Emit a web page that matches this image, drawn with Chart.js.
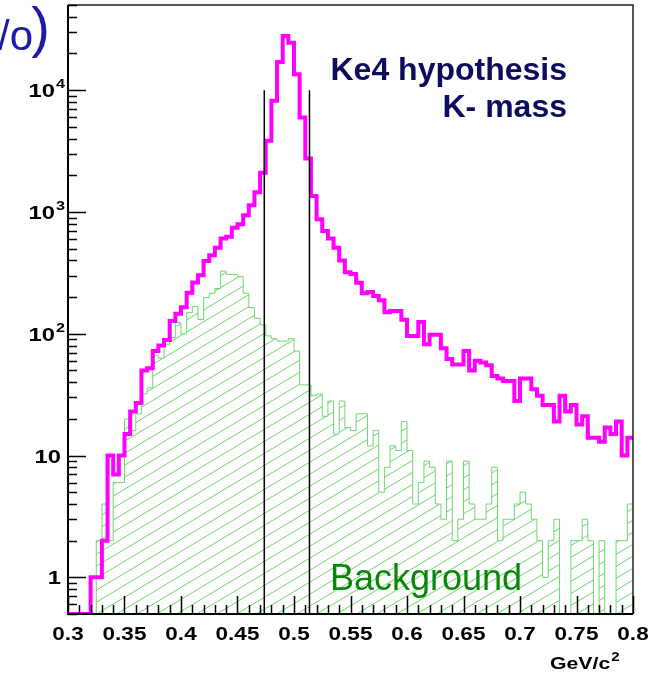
<!DOCTYPE html>
<html><head><meta charset="utf-8">
<script src="https://cdn.jsdelivr.net/npm/chart.js@4/dist/chart.umd.min.js"></script>
<style>html,body{margin:0;padding:0;background:#fff;overflow:hidden}#wrap{width:659px;height:675px;position:relative}</style>
</head><body><div id="wrap"><canvas id="c" width="659" height="675"></canvas></div>
<script>
// ---- data ----
const xMin = 0.3, xMax = 0.8, binWidth = 0.005;
const yMin = 0.5, yMax = 50000;
const totalCounts = [
  0,0,0,0,1,1,2,10,7,10,
  15,23,27,50,52,72,80,89,127,146,
  165,217,263,302,395,440,509,604,627,743,
  791,938,1133,1450,2100,3850,8200,17000,27800,24500,
  13500,5950,2740,1350,869,697,604,509,400,320,
  310,262,215,220,204,188,150,154,154,130,
  96,96,125,82,98,98,76,62,56,56,
  72,50,60,58,55,45,43,41,41,28,
  43,43,35,31,26,26,19,31,23,26,
  18,21,14,14,13,17,15,19,10,14
];
const backgroundCounts = [
  0,0,0,0,0,2,4,2,6,6,
  20,16,22,32,36,66,63,82,93,123,
  100,149,167,131,198,215,235,327,307,307,
  294,215,164,134,118,96,91,87,87,91,
  72,38,38,31,32,21,28,15,28,17,
  16,22,22,12,16,5,8,12,11,19,
  11,4,6,9,8,4,3,9,2,3,
  9,4,3,3,4,8,2,3,3,4,
  5,4,3,2,1,2,3,0,0,2,
  2,3,2,0,2,0,0,2,2,4
];
const cutEdges = [0.4737, 0.5137];
const cutTop = 10000;
const xTickValues = [0.3,0.35,0.4,0.45,0.5,0.55,0.6,0.65,0.7,0.75,0.8];
const xTickLabels = ['0.3','0.35','0.4','0.45','0.5','0.55','0.6','0.65','0.7','0.75','0.8'];
const yTickValues = [1,10,100,1000,10000];
const yTickBases = ['1','10','10','10','10'];
const yTickExps = ['','','2','3','4'];
const textLine1 = 'Ke4 hypothesis';
const textLine2 = 'K- mass';
const textBackground = 'Background';
const axisUnit = 'GeV/c';
const axisUnitExp = '2';
const titleFragmentA = '/o';
const titleFragmentB = ')';

// ---- helpers ----
function stepPoints(counts){
  const pts = counts.map((c,i)=>({x: xMin + i*binWidth, y: c>0 ? c : yMin}));
  const last = counts[counts.length-1];
  pts.push({x: xMax, y: last>0 ? last : yMin});
  return pts;
}
function hatchPattern(){
  const w = 20, h = 12;
  const cv = document.createElement('canvas');
  cv.width = w; cv.height = h;
  const g = cv.getContext('2d');
  g.strokeStyle = 'rgb(105,212,105)';
  g.lineWidth = 1;
  for (const k of [-1,0,1]) {
    g.beginPath();
    g.moveTo(-w, 2*h + k*h);
    g.lineTo(2*w, -h + k*h);
    g.stroke();
  }
  return g.createPattern(cv, 'repeat');
}
const LF = '"Liberation Sans", Arial, sans-serif';

const decorPlugin = {
  id: 'decor',
  afterDatasetsDraw(chart){
    const ctx = chart.ctx, a = chart.chartArea;
    const xs = chart.scales.x, ys = chart.scales.y;
    ctx.save();
    // frame
    ctx.strokeStyle = '#222'; ctx.lineWidth = 1.5;
    ctx.beginPath();
    ctx.moveTo(a.left, a.top); ctx.lineTo(a.right, a.top); ctx.lineTo(a.right, a.bottom);
    ctx.stroke();
    ctx.strokeStyle = '#000'; ctx.lineWidth = 2;
    ctx.beginPath();
    ctx.moveTo(a.left, a.top); ctx.lineTo(a.left, a.bottom); ctx.lineTo(a.right, a.bottom);
    ctx.stroke();
    // y ticks (inside)
    ctx.lineWidth = 1.5;
    ctx.beginPath();
    for (let e = -1; e <= 4; e++) {
      for (let m = 1; m <= 9; m++) {
        const v = m * Math.pow(10, e);
        if (v < yMin || v > yMax) continue;
        const y = Math.round(ys.getPixelForValue(v)) + 0.5;
        const len = (m === 1) ? 18 : 9;
        ctx.moveTo(a.left, y); ctx.lineTo(a.left + len, y);
      }
    }
    // x ticks (inside)
    for (let i = 0; i <= 50; i++) {
      const v = xMin + i*0.01;
      const x = Math.round(xs.getPixelForValue(v)) + 0.5;
      const len = (i % 5 === 0) ? 18 : 9;
      ctx.moveTo(x, a.bottom); ctx.lineTo(x, a.bottom - len);
    }
    ctx.stroke();

    // x tick labels
    ctx.fillStyle = '#000';
    ctx.textBaseline = 'alphabetic';
    const sx = 1.25;
    ctx.font = 'bold 18px ' + LF;
    xTickValues.forEach((v,i)=>{
      const x = xs.getPixelForValue(v);
      const w = ctx.measureText(xTickLabels[i]).width * sx;
      ctx.save();
      ctx.translate(x - w/2, 640);
      ctx.scale(sx, 1);
      ctx.fillText(xTickLabels[i], 0, 0);
      ctx.restore();
    });
    // y tick labels
    yTickValues.forEach((v,i)=>{
      const y = ys.getPixelForValue(v);
      ctx.font = 'bold 19px ' + LF;
      const wb = ctx.measureText(yTickBases[i]).width * sx;
      ctx.font = 'bold 13px ' + LF;
      const we = yTickExps[i] ? ctx.measureText(yTickExps[i]).width * sx : 0;
      const right = yTickExps[i] ? 64 : 61;
      const x0 = right - we - wb;
      ctx.save();
      ctx.translate(x0, y + 7); ctx.scale(sx, 1);
      ctx.font = 'bold 19px ' + LF;
      ctx.fillText(yTickBases[i], 0, 0);
      ctx.restore();
      if (yTickExps[i]) {
        ctx.save();
        ctx.translate(x0 + wb + 1, y - 2); ctx.scale(sx, 1);
        ctx.font = 'bold 13px ' + LF;
        ctx.fillText(yTickExps[i], 0, 0);
        ctx.restore();
      }
    });
    // axis unit
    ctx.save();
    ctx.font = 'bold 17px ' + LF;
    const wu = ctx.measureText(axisUnit).width * sx;
    ctx.translate(550, 669); ctx.scale(sx, 1);
    ctx.fillText(axisUnit, 0, 0);
    ctx.restore();
    ctx.save();
    ctx.font = 'bold 12px ' + LF;
    ctx.translate(550 + wu + 1, 661); ctx.scale(sx, 1);
    ctx.fillText(axisUnitExp, 0, 0);
    ctx.restore();

    // annotations
    ctx.fillStyle = '#0c0c5e';
    ctx.font = 'bold 32px ' + LF;
    ctx.textAlign = 'right';
    ctx.fillText(textLine1, 567, 80);
    ctx.fillText(textLine2, 567, 117);
    ctx.textAlign = 'left';
    ctx.fillStyle = '#0a870a';
    ctx.font = '36px ' + LF;
    ctx.fillText(textBackground, 330, 590);
    // partial title at the top-left corner
    ctx.fillStyle = '#1c1ca8';
    ctx.font = '42px ' + LF;
    ctx.fillText(titleFragmentA, -2, 50);
    ctx.font = '56px ' + LF;
    ctx.textAlign = 'right';
    ctx.fillText(titleFragmentB, 50, 46);
    ctx.restore();
  }
};

const datasets = [
  {
    label: 'Background',
    data: stepPoints(backgroundCounts),
    stepped: true,
    borderColor: 'rgb(110,215,110)',
    borderWidth: 1,
    backgroundColor: hatchPattern(),
    fill: 'start',
    pointRadius: 0,
    order: 3
  },
  {
    label: 'Ke4 hypothesis',
    data: stepPoints(totalCounts),
    stepped: true,
    borderColor: '#ff00ff',
    borderWidth: 4,
    borderJoinStyle: 'miter',
    fill: false,
    pointRadius: 0,
    order: 2
  }
];
cutEdges.forEach((c)=>{
  datasets.push({
    label: 'cut',
    data: [{x: c, y: yMin}, {x: c, y: cutTop}],
    borderColor: '#000',
    borderWidth: 1.5,
    fill: false,
    pointRadius: 0,
    order: 1
  });
});

new Chart(document.getElementById('c'), {
  type: 'line',
  data: { datasets },
  options: {
    responsive: false,
    animation: false,
    events: [],
    layout: { padding: { left: 68, right: 26, top: 5, bottom: 61 } },
    plugins: { legend: { display: false }, tooltip: { enabled: false } },
    scales: {
      x: { type: 'linear', min: xMin, max: xMax, display: false },
      y: { type: 'logarithmic', min: yMin, max: yMax, display: false }
    }
  },
  plugins: [decorPlugin]
});
</script>
</body></html>
